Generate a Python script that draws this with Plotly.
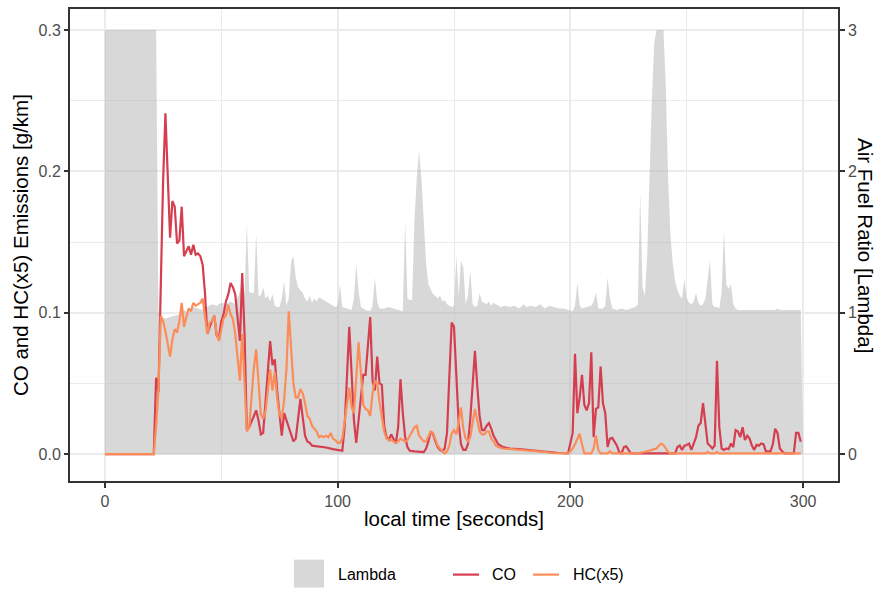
import plotly.graph_objects as go

# ---- CO emissions [g/km] over local time [s] ----
co_t = [0, 5, 10, 15, 21, 22, 23, 25, 26, 28,
        29, 30, 31, 32, 33, 34, 35, 36, 37, 38,
        39, 40, 41, 42, 43, 44, 45, 46, 47, 48,
        49, 50, 51, 52, 53, 54, 55, 56, 57, 58,
        59, 60, 61, 62, 63, 64, 65, 66, 67, 68,
        69, 70, 71, 72, 73, 74, 75, 76, 77, 78,
        79, 80, 81, 82, 83, 84, 85, 86, 87, 88,
        89, 92, 95, 98, 102, 103, 104, 105, 106, 107,
        108, 109, 110, 111, 112, 113, 114, 115, 116, 117,
        118, 119, 120, 121, 122, 123, 124, 125, 126, 127,
        128, 129, 130, 131, 133, 135, 137, 138, 139, 140,
        141, 142, 143, 144, 145, 146, 147, 148, 149, 150,
        151, 152, 153, 154, 155, 156, 157, 158, 159, 160,
        161, 162, 163, 164, 165, 166, 167, 168, 169, 171,
        174, 178, 184, 190, 195, 199, 200, 201, 202, 203,
        204, 205, 206, 207, 208, 209, 210, 211, 212, 213,
        214, 215, 216, 217, 218, 219, 220, 221, 222, 223,
        224, 225, 226, 230, 235, 240, 245, 246, 247, 248,
        249, 250, 251, 252, 253, 254, 255, 256, 257, 258,
        259, 260, 261, 262, 263, 264, 265, 266, 267, 268,
        269, 270, 271, 272, 273, 274, 275, 276, 277, 278,
        279, 280, 281, 282, 283, 284, 286, 287, 288, 289,
        290, 291, 292, 296, 297, 298, 299]
co_v = [0, 0, 0, 0, 0, 0.054, 0.044, 0.193, 0.241, 0.153,
        0.179, 0.175, 0.149, 0.151, 0.175, 0.140, 0.144, 0.147, 0.141, 0.148,
        0.141, 0.142, 0.140, 0.134, 0.114, 0.085, 0.090, 0.094, 0.098, 0.084,
        0.082, 0.094, 0.099, 0.108, 0.113, 0.121, 0.118, 0.113, 0.097, 0.080,
        0.128, 0.085, 0.017, 0.019, 0.023, 0.027, 0.031, 0.024, 0.014, 0.015,
        0.035, 0.060, 0.080, 0.063, 0.067, 0.045, 0.029, 0.013, 0.029, 0.024,
        0.019, 0.015, 0.009, 0.011, 0.024, 0.039, 0.026, 0.013, 0.009, 0.008,
        0.006, 0.0055, 0.0047, 0.0035, 0.0024, 0.019, 0.052, 0.090, 0.057, 0.024,
        0.008, 0.024, 0.043, 0.056, 0.056, 0.078, 0.097, 0.052, 0.045, 0.069,
        0.050, 0.049, 0.020, 0.012, 0.010, 0.014, 0.011, 0.0075, 0.019, 0.053,
        0.029, 0.012, 0.005, 0.0024, 0.002, 0.002, 0.0015, 0.004, 0.009, 0.016,
        0.014, 0.009, 0.005, 0.003, 0.002, 0.004, 0.015, 0.055, 0.093, 0.090,
        0.052, 0.022, 0.007, 0.003, 0.003, 0.007, 0.025, 0.050, 0.073, 0.048,
        0.027, 0.017, 0.017, 0.020, 0.022, 0.018, 0.013, 0.010, 0.007, 0.005,
        0.004, 0.0035, 0.0024, 0.0014, 0.0008, 0.0005, 0.0075, 0.015, 0.071, 0.029,
        0.040, 0.056, 0.035, 0.031, 0.036, 0.072, 0.012, 0.032, 0.033, 0.062,
        0.036, 0.029, 0.005, 0.011, 0.0115, 0.0085, 0.006, 0.0014, 0.0005, 0.005,
        0.0055, 0.003, 0.0005, 0.0005, 0.0005, 0.0005, 0.0005, 0.005, 0.006, 0.003,
        0.006, 0.0065, 0.0075, 0.003, 0.008, 0.012, 0.020, 0.022, 0.036, 0.022,
        0.0075, 0.006, 0.004, 0.006, 0.066, 0.019, 0.004, 0.003, 0.004, 0.0035,
        0.0075, 0.005, 0.017, 0.016, 0.012, 0.019, 0.010, 0.013, 0.011, 0.006,
        0.003, 0.0065, 0.006, 0.0075, 0.007, 0.002, 0.002, 0.007, 0.018, 0.015,
        0.004, 0.002, 0.0005, 0.0005, 0.015, 0.015, 0.0087]

# ---- HC emissions, multiplied by 5 [g/km] ----
hc_t = [0, 5, 10, 15, 21, 22, 23, 24, 25, 26,
        27, 28, 29, 30, 31, 32, 33, 34, 35, 36,
        37, 38, 39, 40, 41, 42, 43, 44, 45, 46,
        47, 48, 49, 50, 51, 52, 53, 54, 55, 56,
        57, 58, 59, 60, 61, 62, 63, 64, 65, 66,
        67, 68, 69, 70, 71, 72, 73, 74, 75, 76,
        77, 78, 79, 80, 81, 82, 83, 84, 85, 86,
        87, 88, 89, 90, 91, 92, 93, 94, 95, 96,
        97, 98, 99, 100, 101, 102, 103, 104, 105, 106,
        107, 108, 109, 110, 111, 112, 113, 114, 115, 116,
        117, 118, 119, 120, 121, 122, 123, 124, 125, 126,
        127, 128, 129, 130, 131, 132, 133, 134, 135, 136,
        137, 138, 139, 140, 141, 142, 143, 144, 145, 146,
        147, 148, 149, 150, 151, 152, 153, 154, 155, 156,
        157, 158, 159, 160, 161, 162, 163, 164, 165, 166,
        167, 168, 169, 171, 175, 178, 182, 185, 189, 192,
        196, 199, 200, 201, 202, 203, 204, 205, 206, 209,
        210, 211, 212, 213, 216, 217, 218, 229, 231, 233,
        235, 237, 238, 239, 240, 241, 242, 243, 258, 259,
        260, 262, 263, 264, 299]
hc_v = [0, 0, 0, 0, 0, 0.020, 0.045, 0.098, 0.094, 0.087,
        0.078, 0.069, 0.081, 0.0885, 0.086, 0.094, 0.107, 0.090, 0.097, 0.103,
        0.101, 0.107, 0.105, 0.106, 0.107, 0.110, 0.099, 0.085, 0.093, 0.094,
        0.098, 0.085, 0.080, 0.088, 0.096, 0.098, 0.1056, 0.099, 0.0955, 0.085,
        0.067, 0.052, 0.085, 0.052, 0.016, 0.019, 0.043, 0.061, 0.074, 0.050,
        0.028, 0.025, 0.030, 0.045, 0.060, 0.045, 0.058, 0.040, 0.028, 0.025,
        0.038, 0.060, 0.101, 0.075, 0.050, 0.040, 0.040, 0.046, 0.043, 0.036,
        0.027, 0.025, 0.020, 0.018, 0.016, 0.012, 0.013, 0.012, 0.013, 0.012,
        0.015, 0.011, 0.010, 0.008, 0.008, 0.011, 0.024, 0.037, 0.047, 0.033,
        0.029, 0.054, 0.079, 0.057, 0.035, 0.032, 0.031, 0.027, 0.043, 0.052,
        0.050, 0.037, 0.025, 0.016, 0.011, 0.010, 0.010, 0.009, 0.008, 0.009,
        0.011, 0.010, 0.009, 0.010, 0.013, 0.016, 0.019, 0.020, 0.013, 0.011,
        0.009, 0.009, 0.012, 0.016, 0.015, 0.010, 0.006, 0.004, 0.002, 0.0005,
        0.002, 0.006, 0.0145, 0.017, 0.014, 0.022, 0.033, 0.018, 0.011, 0.009,
        0.012, 0.022, 0.032, 0.024, 0.016, 0.014, 0.014, 0.016, 0.016, 0.011,
        0.009, 0.006, 0.005, 0.004, 0.0035, 0.003, 0.0025, 0.002, 0.0015, 0.0008,
        0.0005, 0.0005, 0.002, 0.004, 0.007, 0.011, 0.0145, 0.007, 0.0005, 0.0005,
        0.004, 0.013, 0.003, 0.0005, 0.0005, 0.002, 0.0005, 0.0005, 0.001, 0.002,
        0.003, 0.004, 0.006, 0.0075, 0.0065, 0.004, 0.0015, 0.0005, 0.0005, 0.0015,
        0.0005, 0.0005, 0.0015, 0.0005, 0.0005]

# ---- Air fuel ratio (lambda), capped at 3 ----
lam_t = [0, 22, 23, 24, 26, 28, 30, 32, 34, 36,
         38, 40, 42, 44, 46, 48, 50, 52, 54, 56,
         58, 59, 60, 61, 62, 63, 64, 65, 66, 67,
         68, 69, 70, 71, 72, 73, 74, 75, 76, 77,
         78, 79, 80, 81, 82, 83, 84, 85, 86, 87,
         88, 89, 90, 91, 92, 94, 96, 98, 99, 100,
         101, 102, 104, 106, 107, 108, 109, 110, 112, 114,
         115, 116, 117, 118, 120, 122, 124, 126, 128, 129,
         130, 131, 132, 133, 134, 135, 136, 137, 138, 139,
         140, 141, 142, 143, 144, 145, 146, 147, 148, 149,
         150, 151, 152, 153, 154, 155, 156, 157, 158, 159,
         160, 161, 162, 163, 164, 165, 166, 167, 168, 170,
         172, 174, 176, 178, 180, 181, 183, 185, 187, 189,
         191, 193, 195, 197, 199, 200, 201, 202, 203, 204,
         205, 207, 209, 210, 211, 212, 214, 215, 216, 217,
         218, 220, 222, 224, 226, 228, 229, 230, 231, 232,
         233, 234, 235, 236, 237, 240, 241, 242, 243, 244,
         245, 246, 247, 248, 249, 250, 251, 252, 253, 254,
         255, 256, 257, 258, 259, 260, 261, 262, 263, 264,
         265, 266, 267, 268, 269, 270, 271, 272, 280, 288,
         289, 290, 299, 300]
lam_v = [3.0, 3.0, 1.0, 0.97, 0.96, 0.97, 0.98, 0.99, 1.02, 1.0,
         1.04, 1.03, 1.02, 1.04, 1.06, 1.05, 1.07, 1.06, 1.08, 1.06,
         1.15, 1.27, 1.12, 1.63, 1.15, 1.14, 1.14, 1.56, 1.12, 1.12,
         1.18, 1.10, 1.12, 1.08, 1.13, 1.05, 1.04, 1.04, 1.10, 1.22,
         1.05, 1.10, 1.36, 1.40, 1.25, 1.18, 1.16, 1.14, 1.10, 1.08,
         1.12, 1.07, 1.10, 1.08, 1.11, 1.09, 1.07, 1.05, 1.04, 1.05,
         1.20, 1.04, 1.03, 1.02, 1.10, 1.34, 1.15, 1.04, 1.02, 1.01,
         1.05, 1.25, 1.08, 1.03, 1.03, 1.04, 1.03, 1.02, 1.01, 1.64,
         1.10, 1.09, 1.09, 1.65, 1.95, 2.14, 1.95, 1.65, 1.35, 1.20,
         1.16, 1.13, 1.12, 1.10, 1.12, 1.08, 1.09, 1.06, 1.05, 1.04,
         1.05, 1.40, 1.12, 1.37, 1.32, 1.06, 1.12, 1.30, 1.06, 1.04,
         1.05, 1.14, 1.08, 1.07, 1.06, 1.08, 1.05, 1.07, 1.06, 1.04,
         1.05, 1.04, 1.05, 1.03, 1.06, 1.04, 1.05, 1.04, 1.06, 1.03,
         1.05, 1.04, 1.03, 1.03, 1.02, 1.02, 1.01, 1.05, 1.21, 1.05,
         1.03, 1.04, 1.05, 1.08, 1.14, 1.03, 1.03, 1.05, 1.25, 1.10,
         1.03, 1.02, 1.03, 1.02, 1.03, 1.04, 1.06, 1.85, 1.18, 1.12,
         1.40, 2.0, 2.5, 2.9, 3.0, 3.0, 2.6, 1.95, 1.55, 1.35,
         1.22, 1.16, 1.12, 1.10, 1.24, 1.10, 1.07, 1.06, 1.08, 1.14,
         1.07, 1.05, 1.06, 1.10, 1.25, 1.37, 1.06, 1.04, 1.04, 1.03,
         1.15, 1.58, 1.20, 1.17, 1.20, 1.06, 1.03, 1.02, 1.02, 1.02,
         1.03, 1.02, 1.02, 0.0]

# ---- axis ticks ----
x_ticks = [0, 100, 200, 300]
em_ticks = [0.0, 0.1, 0.2, 0.3]
em_ticklabels = ["0.0", "0.1", "0.2", "0.3"]
lam_ticks = [0, 1, 2, 3]
lam_ticklabels = ["0", "1", "2", "3"]

# ---- styling ----
FONT = "Liberation Sans, Arial, Helvetica, sans-serif"
CO_COL = "#D53E4F"
HC_COL = "#FC8D59"
LAM_FILL = "rgba(178,178,178,0.5)"
GRID = "#EBEBEB"
INK = "#333333"
TICK_TXT = "#4D4D4D"

W, H = 877, 589
L, R, T, B = 70, 39, 7, 108
PW, PH = W - L - R, H - T - B


def px(x):
    return (x - L) / PW


def py(y):
    return (H - B - y) / PH


fig = go.Figure()

fig.add_trace(go.Scatter(
    x=lam_t, y=lam_v, name="Lambda", mode="lines",
    line=dict(width=0, color=LAM_FILL), fill="tozeroy", fillcolor=LAM_FILL,
    yaxis="y", showlegend=False, hoverinfo="skip"))
fig.add_trace(go.Scatter(
    x=co_t, y=co_v, name="CO", mode="lines",
    line=dict(color=CO_COL, width=2.2), yaxis="y2", showlegend=False))
fig.add_trace(go.Scatter(
    x=hc_t, y=hc_v, name="HC(x5)", mode="lines",
    line=dict(color=HC_COL, width=2.2), yaxis="y2", showlegend=False))

tickfont = dict(family=FONT, size=16, color=TICK_TXT)

fig.update_layout(
    width=W, height=H,
    margin=dict(l=L, r=R, t=T, b=B),
    paper_bgcolor="white", plot_bgcolor="white",
    font=dict(family=FONT),
    showlegend=False,
    xaxis=dict(
        range=[-15, 315], tickvals=x_ticks, ticks="outside", ticklen=5,
        tickwidth=1.5, tickcolor=INK, tickfont=tickfont,
        showgrid=True, gridcolor=GRID, gridwidth=2,
        minor=dict(showgrid=True, dtick=50, tick0=0, gridcolor=GRID, gridwidth=1.1),
        showline=True, linecolor=INK, linewidth=1.5, mirror=True,
        zeroline=False),
    yaxis=dict(
        range=[-0.19, 3.148], side="right", tickvals=lam_ticks,
        ticktext=lam_ticklabels, ticks="outside", ticklen=5, tickwidth=1.5,
        tickcolor=INK, tickfont=tickfont,
        showgrid=True, gridcolor=GRID, gridwidth=2,
        minor=dict(showgrid=True, dtick=0.5, tick0=0, gridcolor=GRID, gridwidth=1.1),
        showline=True, linecolor=INK, linewidth=1.5, mirror=True,
        zeroline=False),
    yaxis2=dict(
        range=[-0.019, 0.3148], side="left", overlaying="y",
        tickvals=em_ticks, ticktext=em_ticklabels, ticks="outside",
        ticklen=5, tickwidth=1.5, tickcolor=INK, tickfont=tickfont,
        showgrid=False, zeroline=False, showline=False),
)

title_font = dict(family=FONT, size=20.5, color="black")
legend_font = dict(family=FONT, size=16, color="black")

annotations = [
    dict(text="local time [seconds]", x=0.5, y=py(519), xref="paper", yref="paper",
         xanchor="center", yanchor="middle", showarrow=False, font=title_font),
    dict(text="CO and HC(x5) Emissions [g/km]", x=px(20), y=0.5, xref="paper",
         yref="paper", xanchor="center", yanchor="middle", textangle=-90,
         showarrow=False, font=title_font),
    dict(text="Air Fuel Ratio [Lambda]", x=px(866), y=0.5, xref="paper",
         yref="paper", xanchor="center", yanchor="middle", textangle=90,
         showarrow=False, font=title_font),
    dict(text="Lambda", x=px(336), y=py(575), xref="paper", yref="paper",
         xanchor="left", yanchor="middle", showarrow=False, font=legend_font),
    dict(text="CO", x=px(490), y=py(575), xref="paper", yref="paper",
         xanchor="left", yanchor="middle", showarrow=False, font=legend_font),
    dict(text="HC(x5)", x=px(571), y=py(575), xref="paper", yref="paper",
         xanchor="left", yanchor="middle", showarrow=False, font=legend_font),
]

shapes = [
    dict(type="rect", xref="paper", yref="paper", x0=px(294), x1=px(324),
         y0=py(588), y1=py(560), fillcolor=LAM_FILL, line=dict(width=0)),
    dict(type="line", xref="paper", yref="paper", x0=px(453), x1=px(479),
         y0=py(575), y1=py(575), line=dict(color=CO_COL, width=2.2)),
    dict(type="line", xref="paper", yref="paper", x0=px(533), x1=px(559),
         y0=py(575), y1=py(575), line=dict(color=HC_COL, width=2.2)),
]

fig.update_layout(annotations=annotations, shapes=shapes)

fig.write_html("out.html")
